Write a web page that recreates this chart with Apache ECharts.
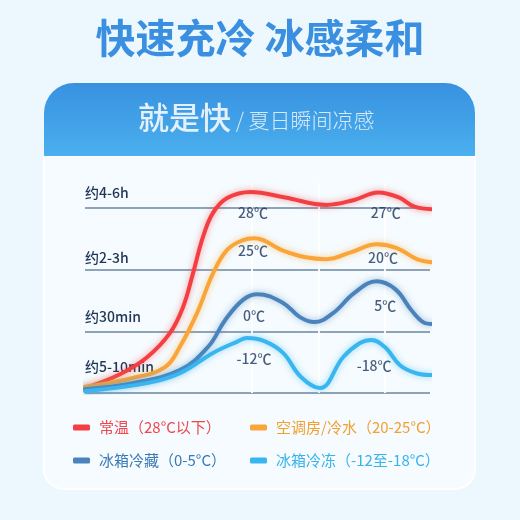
<!DOCTYPE html>
<html><head><meta charset="utf-8">
<script src="https://cdn.jsdelivr.net/npm/echarts@6/dist/echarts.min.js"></script>
<style>html,body{margin:0;padding:0;background:#ecf8fd}#c{width:520px;height:520px}</style>
</head><body><div id="c"></div>
<script>
// ---- data ----
const seriesNames = ['常温（28°C以下）','空调房/冷水（20-25°C）','冰箱冷藏（0-5°C）','冰箱冷冻（-12至-18°C）'];
const seriesColors = ['#f33f42','#f9a53a','#4a83bb','#39b6f0'];
const legendColors = ['#f0484e','#f2a030','#3a7ab5','#37b4ea'];
const yLabels = ['约5-10min','约30min','约2-3h','约4-6h'];
const yTicks = [0,1,2,3];
const redPts = [[0,0.08],[10,0.3],[18,0.58],[24.6,0.97],[28.4,1.39],[31.3,1.94],[34.2,2.53],[37.1,2.92],[41.2,3.16],[48,3.26],[58,3.17],[70,3.05],[78,3.13],[85,3.25],[91,3.17],[95.5,3.02],[100.6,2.98]];
const orangePts = [[0,0.10],[13.6,0.24],[23.2,0.42],[27.5,0.75],[32.5,1.30],[37.1,1.94],[41.2,2.32],[45.8,2.48],[49,2.51],[57.4,2.31],[64,2.20],[70.1,2.17],[77,2.28],[84.6,2.41],[90.4,2.35],[96.2,2.17],[100.6,2.12]];
const steelPts = [[0,0.06],[13.6,0.16],[27.5,0.37],[35.7,0.75],[40.6,1.18],[45.8,1.51],[50,1.60],[57.4,1.46],[62.3,1.23],[66.5,1.15],[72,1.30],[78,1.62],[84.5,1.81],[90,1.68],[94.5,1.35],[98,1.15],[100.6,1.12]];
const lightPts = [[0,0.03],[18,0.16],[27.5,0.32],[37.1,0.65],[44,0.83],[47,0.89],[52,0.84],[57.4,0.65],[62.6,0.26],[68.1,0.08],[74.8,0.58],[79.7,0.81],[83,0.86],[87,0.74],[91.3,0.45],[96,0.32],[100.6,0.29]];
const tempLabels = [
  {name:'28℃', value:[48.7,2.93]},{name:'27℃', value:[87.2,2.93]},
  {name:'25℃', value:[48.7,2.30]},{name:'20℃', value:[86.4,2.20]},
  {name:'0℃', value:[49,1.26]},{name:'5℃', value:[87,1.41]},
  {name:'-12℃', value:[49,0.55]},{name:'-18℃', value:[83.8,0.44]}
];
const guideX = [48.4,67.8,87];
// ---- chart ----
const FONT = '"Noto Sans CJK SC","Noto Sans",sans-serif';
const chart = echarts.init(document.getElementById('c'));
const allPts = [redPts, orangePts, steelPts, lightPts];
const lineSeries = allPts.map((pts,i)=>({
  type:'line', name: seriesNames[i], data: pts, smooth:0.4, symbol:'none', clip:false, z:5+i,
  lineStyle:{width:4, color: seriesColors[i], shadowBlur:6, shadowColor: seriesColors[i]+'88', cap:'round'},
  itemStyle:{color: seriesColors[i]}
}));
const legendPos = [[73,420],[250,420],[73,453],[250,453]];
const legends = seriesNames.map((n,i)=>({
  left: legendPos[i][0], top: legendPos[i][1], padding:0, itemWidth:17, itemHeight:6, icon:'roundRect',
  selectedMode:false,
  data:[{name:n, textStyle:{color: legendColors[i]}}],
  textStyle:{fontFamily:FONT, fontSize:15, padding:[0,0,0,4]}
}));
const pb = [19,8,5,8];
const rich = {};
pb.forEach((p,i)=>{ rich['l'+i] = {fontFamily:FONT, fontSize:14, fontWeight:500, color:'#1f3556', padding:[0,0,p,0]}; });
chart.setOption({
  backgroundColor:'#ecf8fd',
  textStyle:{fontFamily:FONT},
  title:[
    {text:'快速充冷 冰感柔和', left:'center', top:18, padding:0,
     textStyle:{fontFamily:FONT, fontSize:40, fontWeight:'bold', color:'#3a8fe0'}},
    {text:'{a|就是快}{b| / 夏日瞬间凉感}', left:138, top:102, padding:0,
     textStyle:{fontWeight:'normal', rich:{a:{fontFamily:FONT, fontSize:31, fontWeight:500, color:'#e4f0fb'}, b:{fontFamily:FONT, fontSize:21, fontWeight:300, color:'#d8eafa', padding:[6,0,0,0]}}}}
  ],
  graphic:[
    {type:'rect', z:-10, shape:{x:44,y:156,width:431,height:333,r:[0,0,20,20]}, style:{fill:'#f5fbfe', stroke:'#ffffff', lineWidth:2}},
    {type:'rect', z:-9, shape:{x:44,y:83,width:431,height:73,r:[30,30,0,0]},
     style:{fill:new echarts.graphic.LinearGradient(0,0,0,1,[{offset:0,color:'#3891e0'},{offset:1,color:'#4ab0ee'}])}}
  ],
  legend: legends,
  grid:{left:85, right:90, top:183.3, bottom:127},
  xAxis:{type:'value', min:0, max:100, show:false},
  yAxis:{type:'value', min:0, max:3.4, interval:1,
    axisLine:{show:false}, axisTick:{show:false}, splitLine:{show:false},
    axisLabel:{inside:true, margin:0, verticalAlign:'bottom', align:'left', showMaxLabel:false,
      formatter:(v)=> (yLabels[v] !== undefined ? '{l'+v+'|'+yLabels[v]+'}' : ''), rich: rich}
  },
  series: lineSeries.concat([{
    type:'scatter', data: tempLabels, symbolSize:1, z:4,
    itemStyle:{color:'rgba(0,0,0,0)'},
    label:{show:true, position:'inside', formatter:'{t|{b}}',
      rich:{t:{fontFamily:'Noto Sans CJK SC', fontSize:14, fontWeight:500, color:'#1b355a'}}},
    markLine:{silent:true, symbol:'none', label:{show:false}, z:1,
      data: yTicks.map(y=>({yAxis:y, lineStyle:{color:'#8ea2b8', width:2, type:'solid'}}))
        .concat(guideX.map(x=>({xAxis:x, lineStyle:{color:'rgba(255,255,255,0.9)', width:2, type:'solid'}})))}
  }])
});
</script></body></html>
